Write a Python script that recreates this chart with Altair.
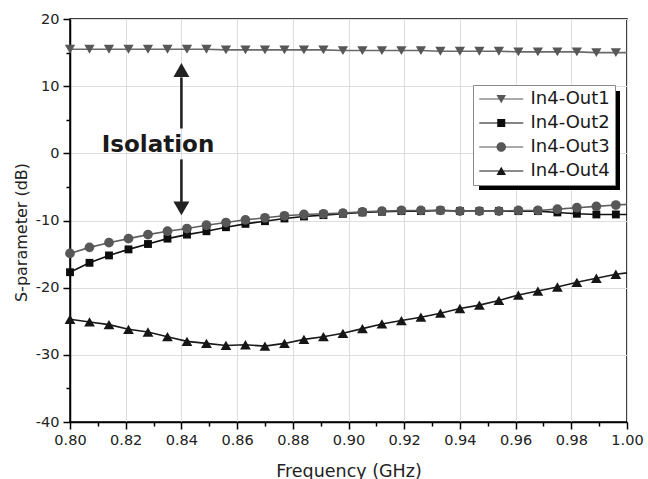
import altair as alt
import pandas as pd

# ---------------- data ----------------
freq = [0.800, 0.807, 0.814, 0.821, 0.828, 0.835, 0.842, 0.849, 0.856, 0.863,
        0.870, 0.877, 0.884, 0.891, 0.898, 0.905, 0.912, 0.919, 0.926, 0.933,
        0.940, 0.947, 0.954, 0.961, 0.968, 0.975, 0.982, 0.989, 0.996, 1.000]

series_names = ["In4-Out1", "In4-Out2", "In4-Out3", "In4-Out4"]

out1 = [15.5, 15.5, 15.5, 15.5, 15.5, 15.5, 15.5, 15.5, 15.4, 15.4,
        15.4, 15.4, 15.4, 15.4, 15.3, 15.3, 15.3, 15.3, 15.3, 15.2,
        15.2, 15.2, 15.2, 15.1, 15.1, 15.1, 15.1, 15.0, 15.0, 15.0]
out2 = [-17.7, -16.3, -15.2, -14.3, -13.5, -12.7, -12.1, -11.6, -11.0, -10.5,
        -10.1, -9.7, -9.4, -9.2, -9.0, -8.8, -8.7, -8.6, -8.6, -8.5,
        -8.6, -8.6, -8.6, -8.6, -8.6, -8.8, -9.0, -9.1, -9.1, -9.1]
out3 = [-14.9, -14.0, -13.3, -12.7, -12.1, -11.6, -11.2, -10.7, -10.3, -9.9,
        -9.6, -9.3, -9.1, -9.0, -8.9, -8.7, -8.6, -8.5, -8.5, -8.5,
        -8.6, -8.6, -8.6, -8.5, -8.5, -8.3, -8.1, -7.9, -7.7, -7.6]
out4 = [-24.7, -25.1, -25.5, -26.2, -26.6, -27.3, -28.0, -28.3, -28.6, -28.5,
        -28.7, -28.3, -27.7, -27.3, -26.8, -26.1, -25.4, -24.9, -24.4, -23.8,
        -23.1, -22.6, -21.9, -21.1, -20.5, -19.9, -19.2, -18.6, -18.0, -17.8]

x_major = [0.80, 0.82, 0.84, 0.86, 0.88, 0.90, 0.92, 0.94, 0.96, 0.98, 1.00]
x_minor = [0.81, 0.83, 0.85, 0.87, 0.89, 0.91, 0.93, 0.95, 0.97, 0.99]
y_major = [-40, -30, -20, -10, 0, 10, 20]
y_minor = [-35, -25, -15, -5, 5, 15]

# annotation (Isolation arrow)
arrow_x = [0.84, 0.84]
shaft_lo = [3.7, -7.3]
shaft_hi = [11.3, -0.9]
head_y = [12.4, -8.2]
head_dir = ["up", "down"]
label_text = ["Isolation"]
label_x = [0.8316]
label_y = [1.3]

# ---------------- tables ----------------
rows = []
for name, vals in zip(series_names, [out1, out2, out3, out4]):
    for f, v in zip(freq, vals):
        rows.append({"f": f, "v": v, "s": name})
df = pd.DataFrame(rows)

shaft_df = pd.DataFrame({"x": arrow_x, "y": shaft_lo, "y2": shaft_hi})
head_df = pd.DataFrame({"x": arrow_x, "y": head_y, "d": head_dir})
text_df = pd.DataFrame({"x": label_x, "y": label_y, "t": label_text})

styles = {
    "In4-Out1": dict(color="#575757", line="#6a6a6a", shape="triangle-down", size=105),
    "In4-Out2": dict(color="#0d0d0d", line="#111111", shape="square", size=62),
    "In4-Out3": dict(color="#575757", line="#5e5e5e", shape="circle", size=95),
    "In4-Out4": dict(color="#161616", line="#1a1a1a", shape="triangle-up", size=115),
}

legend_paths = [
    "M-1.55,-0.12H7.25V0.12H-1.55Z M1.9,-0.8L3.8,-0.8L2.85,0.85Z",
    "M-1.55,-0.12H7.25V0.12H-1.55Z M2.05,-0.8H3.65V0.8H2.05Z",
    "M-1.55,-0.12H7.25V0.12H-1.55Z M3.8,0A0.95,0.95 0 1,1 1.9,0A0.95,0.95 0 1,1 3.8,0Z",
    "M-1.55,-0.12H7.25V0.12H-1.55Z M2.85,-0.85L3.8,0.8L1.9,0.8Z",
]
legend_colors = ["#575757", "#0d0d0d", "#575757", "#161616"]

FONT = "DejaVu Sans"
xs = alt.Scale(domain=[0.8, 1.0], nice=False, zero=False)
ys = alt.Scale(domain=[-40, 20], nice=False, zero=False)

x_axis_major = alt.Axis(
    values=x_major, labelExpr="format(datum.value, '.2f')",
    tickSize=7, tickWidth=1.5, tickColor="black",
    domainColor="black", domainWidth=1.5,
    grid=True, gridColor="#dedede", gridWidth=1,
    labelFont=FONT, labelFontSize=14.5, labelColor="#222222", labelPadding=4,
    labelFlush=False,
    title="Frequency (GHz)", titleFont=FONT, titleFontSize=17.5,
    titleFontWeight="normal", titleColor="#222222",
    titleY=54, titleBaseline="alphabetic",
)
y_axis_major = alt.Axis(
    values=y_major, labelExpr="'' + datum.value",
    tickSize=7, tickWidth=1.5, tickColor="black",
    domainColor="black", domainWidth=1.5,
    grid=True, gridColor="#dedede", gridWidth=1,
    labelFont=FONT, labelFontSize=14.5, labelColor="#222222", labelPadding=4,
    labelFlush=False,
    title="S-parameter (dB)", titleFont=FONT, titleFontSize=16,
    titleFontWeight="normal", titleColor="#222222",
    titleX=-49, titleY=213, titleAngle=270, titleAlign="center",
    titleBaseline="middle",
)
x_axis_minor = alt.Axis(values=x_minor, orient="bottom", labels=False, domain=False,
                        grid=False, tickSize=4, tickWidth=1.5, tickColor="black",
                        title=None)
y_axis_minor = alt.Axis(values=y_minor, orient="left", labels=False, domain=False,
                        grid=False, tickSize=4, tickWidth=1.5, tickColor="black",
                        title=None)

base = alt.Chart(df)
layers = []
first = True
for name in series_names:
    st = styles[name]
    if first:
        xa, ya = x_axis_major, y_axis_major
        xa2, ya2 = x_axis_minor, y_axis_minor
    else:
        xa = ya = xa2 = ya2 = None
    line = base.transform_filter(alt.datum.s == name).mark_line(
        color=st["line"], strokeWidth=1.6
    ).encode(
        x=alt.X("f:Q", scale=xs, axis=xa),
        y=alt.Y("v:Q", scale=ys, axis=ya),
    )
    pts = base.transform_filter(alt.datum.s == name).transform_filter(
        alt.datum.f < 0.999
    ).mark_point(
        filled=True, opacity=1, color=st["color"], shape=st["shape"], size=st["size"]
    ).encode(
        x=alt.X("f:Q", scale=xs, axis=xa2),
        y=alt.Y("v:Q", scale=ys, axis=ya2),
    )
    layers += [line, pts]
    first = False

shafts = alt.Chart(shaft_df).mark_rule(color="#222222", strokeWidth=2.6).encode(
    x=alt.X("x:Q", scale=xs, axis=None),
    y=alt.Y("y:Q", scale=ys, axis=None),
    y2="y2:Q",
)
head_up = alt.Chart(head_df).transform_filter(alt.datum.d == "up").mark_point(
    filled=True, opacity=1, shape="triangle-up", size=256, color="#222222"
).encode(x=alt.X("x:Q", scale=xs, axis=None), y=alt.Y("y:Q", scale=ys, axis=None))
head_down = alt.Chart(head_df).transform_filter(alt.datum.d == "down").mark_point(
    filled=True, opacity=1, shape="triangle-down", size=256, color="#222222"
).encode(x=alt.X("x:Q", scale=xs, axis=None), y=alt.Y("y:Q", scale=ys, axis=None))
iso = alt.Chart(text_df).mark_text(
    font=FONT, fontSize=23, fontWeight="bold", color="#1a1a1a",
    align="center", baseline="middle"
).encode(x=alt.X("x:Q", scale=xs, axis=None), y=alt.Y("y:Q", scale=ys, axis=None),
         text="t:N")

shadow = alt.Chart(text_df).mark_rect(color="black").encode(
    x=alt.value(409), x2=alt.value(550), y=alt.value(72), y2=alt.value(171)
)

leg = alt.Legend(
    orient="none", legendX=403, legendY=66, title=None,
    fillColor="white", strokeColor="#8a8a8a",
    padding=5, rowPadding=6, labelOffset=34.5,
    symbolSize=100, symbolStrokeWidth=0,
    labelFont=FONT, labelFontSize=18, labelColor="#1a1a1a",
)
legend_layer = base.transform_filter("false").mark_point(
    filled=True, size=100, opacity=1
).encode(
    x=alt.X("f:Q", scale=xs, axis=None),
    y=alt.Y("v:Q", scale=ys, axis=None),
    shape=alt.Shape("s:N", scale=alt.Scale(domain=series_names, range=legend_paths),
                    legend=leg),
    color=alt.Color("s:N", scale=alt.Scale(domain=series_names, range=legend_colors),
                    legend=leg),
)

layers += [shafts, head_up, head_down, iso, shadow, legend_layer]

chart = alt.layer(*layers).properties(
    width=557, height=403,
    padding={"left": 70, "top": 19, "right": 21, "bottom": 57},
    autosize=alt.AutoSizeParams(type="none"),
    background="white",
).resolve_axis(x="independent", y="independent").configure_view(
    stroke="black", strokeWidth=1.5
)

chart.save("out.html", embed_options={"renderer": "svg", "actions": False})
